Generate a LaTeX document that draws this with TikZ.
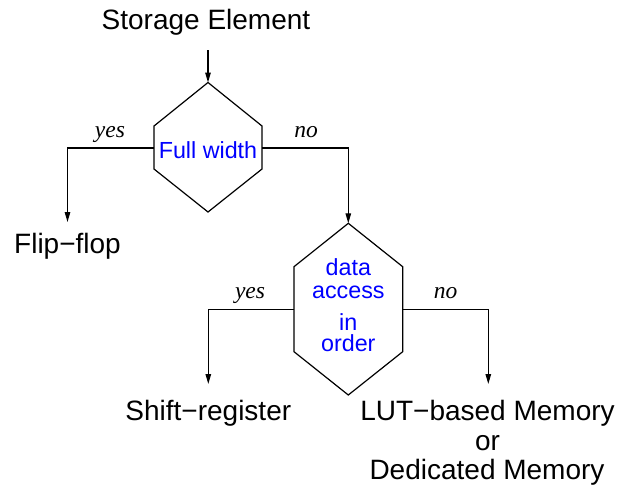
\documentclass[tikz,border=0pt]{standalone}
\usepackage{fontspec}
\setmainfont{Liberation Sans}
\newfontfamily\answerfont{Liberation Serif}
\usetikzlibrary{arrows.meta}
\begin{document}
\begin{tikzpicture}[x=1pt,y=-1pt,
  line width=1.2pt,
  caption/.style={font=\fontsize{28}{30}\selectfont, anchor=base, inner sep=0pt},
  question/.style={font=\fontsize{23.3}{25}\selectfont, text=blue, anchor=base, inner sep=0pt},
  answer/.style={font=\answerfont\itshape\fontsize{23.5}{25}\selectfont, anchor=base, inner sep=0pt},
  flow/.style={-{Triangle[length=10pt,width=5.5pt]}}]
\useasboundingbox (0,0) rectangle (623,490);

% input
\node[caption] (store) at (206,29.5) {Storage Element};
\coordinate (storeOut) at (208,50);

% first decision: full width?
\coordinate (h1t)  at (208,82.5);
\coordinate (h1ur) at (262,126);
\coordinate (h1r)  at (262,148);
\coordinate (h1lr) at (262,169);
\coordinate (h1b)  at (208,212);
\coordinate (h1ll) at (154,169);
\coordinate (h1l)  at (154,148);
\coordinate (h1ul) at (154,126);
\draw (h1t) -- (h1ur) -- (h1lr) -- (h1b) -- (h1ll) -- (h1ul) -- cycle;
\node[question] (fullwidth) at (208,158.3) {Full width};

% second decision: data access in order?
\coordinate (h2t)  at (348.3,223.3);
\coordinate (h2ur) at (402.7,266.7);
\coordinate (h2r)  at (402.7,309.5);
\coordinate (h2lr) at (402.7,351.7);
\coordinate (h2b)  at (348.3,395);
\coordinate (h2ll) at (294,351.7);
\coordinate (h2l)  at (294,309.5);
\coordinate (h2ul) at (294,266.7);
\draw (h2t) -- (h2ur) -- (h2lr) -- (h2b) -- (h2ll) -- (h2ul) -- cycle;
\node[question] (qdata)   at (348.3,275.7) {data};
\node[question] (qaccess) at (348.3,298.3) {access};
\node[question] (qin)     at (348.3,330)   {in};
\node[question] (qorder)  at (348.3,351.7) {order};

% outcomes
\node[caption] (flipflop) at (67.5,253) {Flip−flop};
\coordinate (flipIn) at (67.5,222);
\node[caption] (shiftreg) at (208.3,420) {Shift−register};
\coordinate (shiftIn) at (208.3,384);
\node[caption] (lut) at (487.5,420) {LUT−based Memory};
\node[caption] (orword) at (487.5,450) {or};
\node[caption] (dedicated) at (487,479) {Dedicated Memory};
\coordinate (lutIn) at (488.3,384);

% connectors
\draw[flow] (storeOut) -- (h1t);
\draw[flow] (h1l) -| (flipIn);
\draw[flow] (h1r) -| (h2t);
\draw[flow] (h2l) -| (shiftIn);
\draw[flow] (h2r) -| (lutIn);

% branch labels
\node[answer] (yes1) at (110,137) {yes};
\node[answer] (no1)  at (306,137) {no};
\node[answer] (yes2) at (250,298) {yes};
\node[answer] (no2)  at (445.5,298) {no};
\end{tikzpicture}
\end{document}
